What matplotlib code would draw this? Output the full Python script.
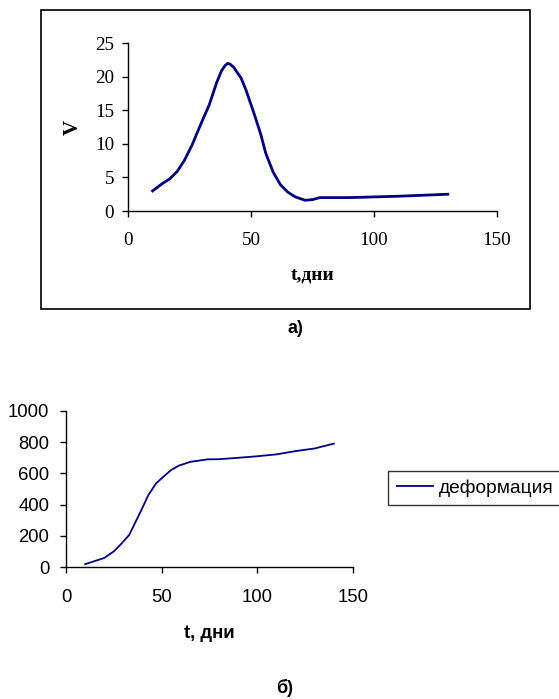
import matplotlib
matplotlib.use("Agg")
import matplotlib.pyplot as plt
from matplotlib.patches import Rectangle

# chart a): V vs t
t_a = [10, 14, 17, 20, 23, 26, 30, 33, 36, 38, 39.5, 40.5, 41.5, 43, 46, 48,
       51, 54, 56, 59, 62, 65, 68, 72, 75, 78, 90, 100, 110, 120, 130]
v_a = [3.0, 4.1, 4.8, 5.9, 7.6, 9.8, 13.3, 15.8, 19.1, 20.9, 21.7, 22.0, 21.9,
       21.4, 19.8, 18.0, 14.8, 11.4, 8.6, 5.8, 3.9, 2.8, 2.1, 1.6, 1.7, 2.0,
       2.0, 2.1, 2.2, 2.35, 2.5]
xticks_a = [0, 50, 100, 150]
yticks_a = [0, 5, 10, 15, 20, 25]

# chart б): deformation vs t
t_b = [10, 20, 25, 29, 33, 39, 43, 47, 51, 55, 59, 65, 74, 80, 90, 100, 110,
       120, 130, 140]
d_b = [18, 58, 100, 150, 205, 355, 460, 535, 580, 622, 650, 674, 690, 691,
       700, 710, 722, 743, 760, 791]
xticks_b = [0, 50, 100, 150]
yticks_b = [0, 200, 400, 600, 800, 1000]

W, H = 559, 699
fig = plt.figure(figsize=(W / 100, H / 100), dpi=100)


def frac(left, top, right, bottom):
    return [left / W, 1 - bottom / H, (right - left) / W, (bottom - top) / H]


def style_axes(ax):
    for side in ["top", "right"]:
        ax.spines[side].set_visible(False)
    for side in ["left", "bottom"]:
        ax.spines[side].set_linewidth(1.0)
        ax.spines[side].set_color("black")
    ax.set_facecolor("none")


# outer frame around chart a)
fig.patches.append(Rectangle((41 / W, 1 - 309 / H), 489 / W, 299 / H,
                             transform=fig.transFigure, fill=False,
                             edgecolor="black", linewidth=1.2))

serif = "Liberation Serif"
sans = "Liberation Sans"

ax1 = fig.add_axes(frac(128, 43.3, 497, 211))
ax1.plot(t_a, v_a, color="#000080", linewidth=2.0)
ax1.set_xlim(0, 150)
ax1.set_ylim(0, 25)
ax1.set_xticks(xticks_a)
ax1.set_yticks(yticks_a)
style_axes(ax1)
ax1.tick_params(axis="x", direction="out", length=4, width=1, pad=11)
ax1.tick_params(axis="y", direction="out", length=4, width=1, pad=6)
for lab in ax1.get_xticklabels() + ax1.get_yticklabels():
    lab.set_fontfamily(serif)
    lab.set_fontsize(13.8)
ax1.set_xlabel("t,дни", fontfamily=serif, fontweight="bold", fontsize=14,
               va="center")
ax1.xaxis.set_label_coords(0.5, (211 - 275) / 167.7)
ax1.set_ylabel("V", fontfamily=serif, fontweight="bold", fontsize=15,
               va="center")
ax1.yaxis.set_label_coords((73 - 128) / 369, 0.5)

fig.text(295 / W, 1 - 328 / H, "а)", fontfamily=sans, fontweight="bold",
         fontsize=13, ha="center", va="center")

ax2 = fig.add_axes(frac(66, 411, 353, 567))
ax2.plot(t_b, d_b, color="#000080", linewidth=1.3, label="деформация")
ax2.set_xlim(0, 150)
ax2.set_ylim(0, 1000)
ax2.set_xticks(xticks_b)
ax2.set_yticks(yticks_b)
style_axes(ax2)
ax2.tick_params(axis="x", direction="out", length=4, width=1, pad=12)
ax2.tick_params(axis="y", direction="out", length=4, width=1, pad=8)
for lab in ax2.get_xticklabels() + ax2.get_yticklabels():
    lab.set_fontfamily(sans)
    lab.set_fontsize(13.3)
ax2.set_xlabel("t, дни", fontfamily=sans, fontweight="bold", fontsize=13.3,
               va="center")
ax2.xaxis.set_label_coords(0.5, (567 - 633) / 156)

leg = fig.legend(loc="center left", bbox_to_anchor=(388 / W, 1 - 488 / H),
                 borderaxespad=0, frameon=True, fancybox=False,
                 handlelength=1.9, handletextpad=0.3, borderpad=0.45,
                 prop={"family": sans, "size": 13.8})
leg.get_frame().set_edgecolor("black")
leg.get_frame().set_linewidth(1.0)

fig.text(285 / W, 1 - 688 / H, "б)", fontfamily=sans, fontweight="bold",
         fontsize=13, ha="center", va="center")

fig.savefig("out.png", dpi=100)
